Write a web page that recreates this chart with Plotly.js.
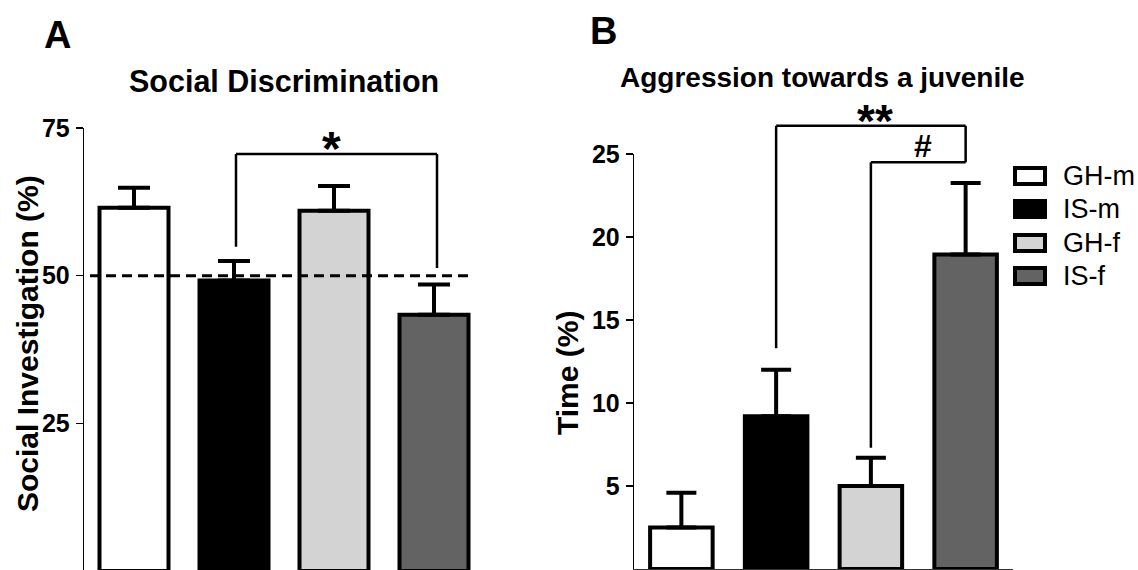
<!DOCTYPE html>
<html>
<head>
<meta charset="utf-8">
<script src="https://cdn.plot.ly/plotly-3.0.1.min.js"></script>
<style>html,body{margin:0;padding:0;background:#fff;}#chart{width:1138px;height:570px;}</style>
</head>
<body>
<div id="chart"></div>
<script>
// ---- data ----
const categories = ['GH-m', 'IS-m', 'GH-f', 'IS-f'];
const barColors = ['#ffffff', '#000000', '#d3d3d3', '#636363'];
const socialMean = [61.5, 49.2, 61.0, 43.4];
const socialSem = [3.4, 3.3, 4.2, 5.1];
const aggressionMean = [2.5, 9.2, 5.0, 18.95];
const aggressionSem = [2.1, 2.8, 1.7, 4.3];
const socialTicks = [25, 50, 75];
const aggressionTicks = [5, 10, 15, 20, 25];

const FONT = 'Liberation Sans, Arial, sans-serif';
const W = 1138, H = 570;
const px = v => v / W;
const py = v => 1 - v / H;

// panel B vertical domain / range (used to place significance marks above the axis top)
const B_DOMAIN = [1 / H, py(154)];
const B_RANGE = [0, 25];
const yB = v => B_DOMAIN[0] + (v - B_RANGE[0]) / (B_RANGE[1] - B_RANGE[0]) * (B_DOMAIN[1] - B_DOMAIN[0]);

const traces = [];
categories.forEach((c, i) => {
  traces.push({
    type: 'bar', x: [c], y: [socialMean[i]], width: 0.69,
    xaxis: 'x', yaxis: 'y', showlegend: false, name: c, legendgroup: c,
    marker: {color: barColors[i], line: {color: '#000', width: 4}},
    error_y: {type: 'data', symmetric: false, array: [socialSem[i]], arrayminus: [0],
              color: '#000', thickness: 4, width: 16},
    hoverinfo: 'skip'
  });
});
categories.forEach((c, i) => {
  traces.push({
    type: 'bar', x: [c], y: [aggressionMean[i]], width: 0.66,
    xaxis: 'x2', yaxis: 'y2', showlegend: false, name: c, legendgroup: c,
    marker: {color: barColors[i], line: {color: '#000', width: 4}},
    error_y: {type: 'data', symmetric: false, array: [aggressionSem[i]], arrayminus: [0],
              color: '#000', thickness: 4, width: 15},
    hoverinfo: 'skip'
  });
});

const lineStyle = {color: '#000', width: 2.5};
const seg = (xr, yr, x0, y0, x1, y1, extra) => Object.assign({type: 'line', xref: xr, yref: yr, x0, y0, x1, y1, line: lineStyle, layer: 'above'}, extra || {});

const shapes = [
  // chance level line, panel A
  seg('x', 'y', -0.44, 50, 3.39, 50, {line: {color: '#000', width: 3, dash: '10px,6px'}}),
  // bracket A
  seg('x', 'y', 1.02, 54.9, 1.02, 70.6),
  seg('x', 'y', 1.02, 70.6, 3.03, 70.6),
  seg('x', 'y', 3.03, 70.6, 3.03, 51.3),
  // bracket B **
  seg('x2', 'paper', 1.0, yB(13.3), 1.0, yB(26.7)),
  seg('x2', 'paper', 1.0, yB(26.7), 3.0, yB(26.7)),
  seg('x2', 'paper', 3.0, yB(26.7), 3.0, yB(24.5)),
  // bracket B #
  seg('x2', 'paper', 2.0, yB(7.3), 2.0, yB(24.5)),
  seg('x2', 'paper', 2.0, yB(24.5), 3.0, yB(24.5))
];

const ann = (text, x, y, size, extra) => Object.assign({text, xref: 'paper', yref: 'paper', x, y,
  xanchor: 'center', yanchor: 'middle', showarrow: false, font: {family: FONT, size, color: '#000'}}, extra || {});

const annotations = [
  ann('<b>A</b>', px(57), py(35), 38),
  ann('<b>B</b>', px(604), py(31), 38),
  ann('<b>Social Discrimination</b>', px(284), py(81), 30.5),
  ann('<b>Aggression towards a juvenile</b>', px(822), py(77.5), 28),
  ann('<b>Social Investigation (%)</b>', px(27), py(344), 30, {textangle: -90}),
  ann('<b>Time (%)</b>', px(567), py(373), 30, {textangle: -90}),
  ann('<b>*</b>', px(331), py(120), 48, {yanchor: 'top'}),
  ann('<b>**</b>', px(875), py(93.3), 46, {yanchor: 'top'}),
  ann('<b>#</b>', px(923), yB(24.5), 32, {yanchor: 'bottom', yshift: -4})
];

// legend drawn as boxes + labels, built from categories/colors
const legendRows = [176, 209, 243, 276];
categories.forEach((c, i) => {
  shapes.push({type: 'rect', xref: 'paper', yref: 'paper', x0: px(1015), x1: px(1045),
               y0: py(legendRows[i] + 8), y1: py(legendRows[i] - 8),
               fillcolor: barColors[i], line: {color: '#000', width: 4}});
  annotations.push(ann(c, px(1061), py(legendRows[i]), 27, {xanchor: 'left'}));
});

const tickFont = {family: FONT, size: 25, color: '#000', weight: 'bold'};
const layout = {
  width: W, height: H,
  margin: {l: 0, r: 0, t: 0, b: 0},
  paper_bgcolor: '#fff', plot_bgcolor: 'rgba(0,0,0,0)',
  showlegend: false, barmode: 'overlay', bargap: 0,
  xaxis: {domain: [px(84), px(484)], type: 'category', categoryarray: categories, range: [-0.5, 3.5],
          showline: false, showticklabels: false, ticks: '', showgrid: false, zeroline: false, fixedrange: true},
  yaxis: {domain: [0, py(128)], range: [0.17, 75], tickvals: socialTicks, ticks: 'outside', ticklen: 7,
          tickwidth: 1.3, tickcolor: '#000', showline: true, linecolor: '#000', linewidth: 1.3,
          showgrid: false, zeroline: false, tickfont: tickFont, ticklabelstandoff: 1},
  xaxis2: {domain: [px(634), px(1013)], anchor: 'y2', type: 'category', categoryarray: categories, range: [-0.5, 3.5],
           showline: true, linecolor: '#333', linewidth: 1.5, showticklabels: false, ticks: '', showgrid: false, zeroline: false},
  yaxis2: {domain: B_DOMAIN, anchor: 'x2', range: B_RANGE, tickvals: aggressionTicks, ticks: 'outside', ticklen: 7,
           tickwidth: 1.3, tickcolor: '#000', showline: true, linecolor: '#000', linewidth: 1.3,
           showgrid: false, zeroline: false, tickfont: tickFont, ticklabelstandoff: 1},
  shapes: shapes,
  annotations: annotations
};

Plotly.newPlot('chart', traces, layout, {displayModeBar: false, staticPlot: true});
</script>
</body>
</html>
